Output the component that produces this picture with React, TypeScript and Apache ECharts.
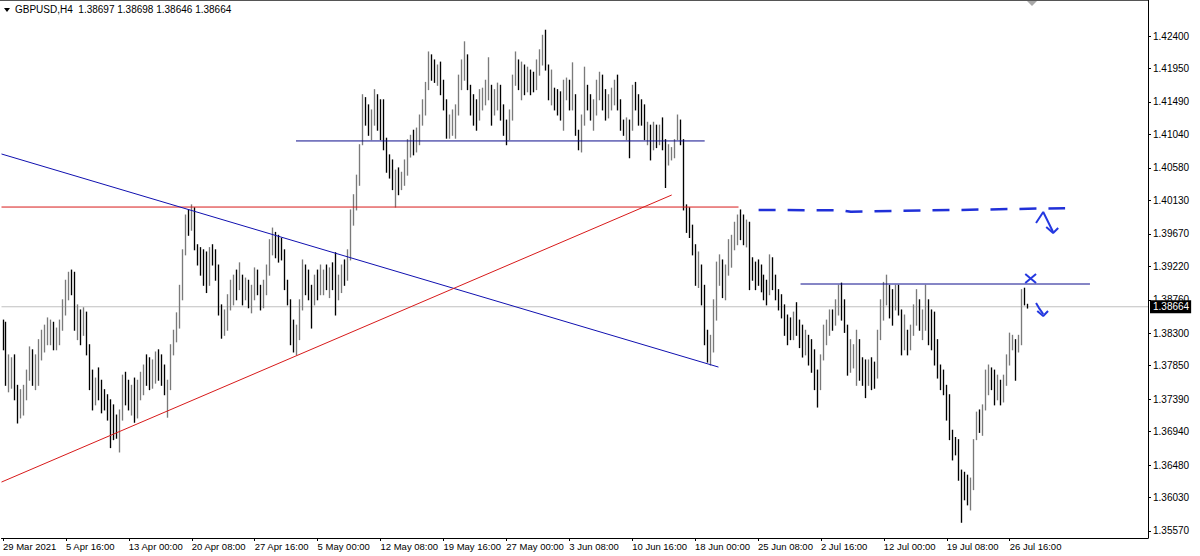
import React, { useEffect, useRef } from 'react';
import * as echarts from 'echarts';

const symbolTitle = 'GBPUSD,H4  1.38697 1.38698 1.38646 1.38664';

const xTickLabels = [
  '29 Mar 2021', '5 Apr 16:00', '13 Apr 00:00', '20 Apr 08:00', '27 Apr 16:00', '5 May 00:00',
  '12 May 08:00', '19 May 16:00', '27 May 00:00', '3 Jun 08:00', '10 Jun 16:00', '18 Jun 00:00',
  '25 Jun 08:00', '2 Jul 16:00', '12 Jul 00:00', '19 Jul 08:00', '26 Jul 16:00',
];
const xTickStep = 21;

const yTickLabels = [
  '1.42400', '1.41950', '1.41490', '1.41040', '1.40580', '1.40130', '1.39670', '1.39220',
  '1.38760', '1.38300', '1.37850', '1.37390', '1.36940', '1.36480', '1.36030', '1.35570',
];

const firstOpen = 1.383;

const highs = [
  1.3848, 1.3845, 1.3800, 1.3796, 1.3800, 1.3758, 1.3752, 1.3758, 1.3779, 1.3811,
  1.3807, 1.3800, 1.3821, 1.3834, 1.3841, 1.3851, 1.3848, 1.3845, 1.3837, 1.3848,
  1.3876, 1.3903, 1.3914, 1.3917, 1.3914, 1.3869, 1.3862, 1.3865, 1.3859, 1.3814,
  1.3779, 1.3768, 1.3782, 1.3765, 1.3752, 1.3745, 1.3738, 1.3731, 1.3717, 1.3724,
  1.3772, 1.3776, 1.3765, 1.3758, 1.3768, 1.3765, 1.3776, 1.3786, 1.3800, 1.3796,
  1.3793, 1.3804, 1.3807, 1.3800, 1.3786, 1.3765, 1.3814, 1.3834, 1.3858, 1.3896,
  1.3945, 1.3993, 1.4000, 1.4007, 1.4003, 1.3952, 1.3948, 1.3945, 1.3942, 1.3948,
  1.3952, 1.3945, 1.3924, 1.3869, 1.3862, 1.3883, 1.3903, 1.3910, 1.3917, 1.3927,
  1.3910, 1.3906, 1.3903, 1.3896, 1.3920, 1.3917, 1.3896, 1.3903, 1.3924, 1.3959,
  1.3975, 1.3969, 1.3965, 1.3961, 1.3945, 1.3903, 1.3876, 1.3848, 1.3841, 1.3876,
  1.3931, 1.3924, 1.3917, 1.3896, 1.3910, 1.3917, 1.3924, 1.3917, 1.3924, 1.3920,
  1.3927, 1.3941, 1.3910, 1.3924, 1.3931, 1.3945, 1.4000, 1.4021, 1.4048, 1.4090,
  1.4159, 1.4155, 1.4145, 1.4138, 1.4166, 1.4159, 1.4152, 1.4152, 1.4099, 1.4076,
  1.4069, 1.4055, 1.4058, 1.4052, 1.4069, 1.4097, 1.4103, 1.4110, 1.4113, 1.4131,
  1.4152, 1.4176, 1.4218, 1.4214, 1.4207, 1.4200, 1.4204, 1.4179, 1.4152, 1.4131,
  1.4138, 1.4145, 1.4186, 1.4207, 1.4232, 1.4214, 1.4172, 1.4159, 1.4152, 1.4166,
  1.4168, 1.4179, 1.4210, 1.4172, 1.4166, 1.4175, 1.4172, 1.4145, 1.4124, 1.4138,
  1.4186, 1.4218, 1.4207, 1.4204, 1.4200, 1.4197, 1.4193, 1.4190, 1.4207, 1.4221,
  1.4241, 1.4248, 1.4200, 1.4193, 1.4168, 1.4166, 1.4163, 1.4179, 1.4182, 1.4179,
  1.4203, 1.4159, 1.4110, 1.4131, 1.4197, 1.4172, 1.4159, 1.4152, 1.4179, 1.4190,
  1.4186, 1.4166, 1.4159, 1.4168, 1.4179, 1.4186, 1.4152, 1.4124, 1.4127, 1.4124,
  1.4172, 1.4176, 1.4159, 1.4152, 1.4145, 1.4121, 1.4117, 1.4121, 1.4117, 1.4117,
  1.4127, 1.4097, 1.4090, 1.4086, 1.4097, 1.4131, 1.4124, 1.4097, 1.4007, 1.4003,
  1.3979, 1.3952, 1.3942, 1.3924, 1.3896, 1.3834, 1.3827, 1.3876, 1.3928, 1.3938,
  1.3931, 1.3924, 1.3959, 1.3965, 1.3983, 1.3993, 1.4000, 1.3993, 1.3986, 1.3983,
  1.3934, 1.3928, 1.3931, 1.3924, 1.3910, 1.3903, 1.3938, 1.3934, 1.3910, 1.3890,
  1.3883, 1.3869, 1.3855, 1.3851, 1.3859, 1.3872, 1.3848, 1.3841, 1.3834, 1.3827,
  1.3821, 1.3807, 1.3779, 1.3800, 1.3841, 1.3848, 1.3862, 1.3862, 1.3876, 1.3896,
  1.3899, 1.3876, 1.3841, 1.3821, 1.3814, 1.3834, 1.3821, 1.3796, 1.3793, 1.3793,
  1.3796, 1.3790, 1.3834, 1.3876, 1.3900, 1.3910, 1.3896, 1.3890, 1.3896, 1.3896,
  1.3862, 1.3855, 1.3834, 1.3841, 1.3869, 1.3890, 1.3876, 1.3862, 1.3896, 1.3876,
  1.3862, 1.3859, 1.3821, 1.3786, 1.3779, 1.3758, 1.3745, 1.3696, 1.3686, 1.3683,
  1.3641, 1.3638, 1.3634, 1.3630, 1.3683, 1.3721, 1.3724, 1.3731, 1.3779, 1.3786,
  1.3782, 1.3779, 1.3772, 1.3765, 1.3772, 1.3800, 1.3830, 1.3827, 1.3821, 1.3827,
  1.3890, 1.3892, 1.38698,
];

const lows = [
  1.3807, 1.3758, 1.3749, 1.3754, 1.3738, 1.3706, 1.3713, 1.3717, 1.3738, 1.3765,
  1.3758, 1.3752, 1.3758, 1.3793, 1.3804, 1.3814, 1.3814, 1.3807, 1.3807, 1.3814,
  1.3834, 1.3855, 1.3876, 1.3883, 1.3834, 1.3821, 1.3814, 1.3827, 1.3800, 1.3752,
  1.3724, 1.3731, 1.3738, 1.3720, 1.3724, 1.3710, 1.3672, 1.3683, 1.3685, 1.3666,
  1.3710, 1.3731, 1.3724, 1.3717, 1.3707, 1.3713, 1.3738, 1.3745, 1.3758, 1.3752,
  1.3754, 1.3761, 1.3765, 1.3758, 1.3745, 1.3714, 1.3752, 1.3800, 1.3818, 1.3837,
  1.3876, 1.3938, 1.3965, 1.3972, 1.3945, 1.3924, 1.3910, 1.3896, 1.3886, 1.3896,
  1.3924, 1.3903, 1.3855, 1.3823, 1.3827, 1.3834, 1.3862, 1.3869, 1.3876, 1.3890,
  1.3869, 1.3876, 1.3865, 1.3858, 1.3876, 1.3883, 1.3862, 1.3865, 1.3883, 1.3910,
  1.3938, 1.3934, 1.3928, 1.3931, 1.3890, 1.3869, 1.3814, 1.3804, 1.3800, 1.3821,
  1.3862, 1.3883, 1.3876, 1.3837, 1.3869, 1.3876, 1.3883, 1.3883, 1.3890, 1.3879,
  1.3890, 1.3855, 1.3876, 1.3886, 1.3896, 1.3903, 1.3931, 1.3979, 1.4000, 1.4034,
  1.4090, 1.4117, 1.4103, 1.4097, 1.4117, 1.4110, 1.4097, 1.4083, 1.4052, 1.4044,
  1.4028, 1.4004, 1.4021, 1.4028, 1.4034, 1.4048, 1.4073, 1.4076, 1.4080, 1.4090,
  1.4117, 1.4131, 1.4166, 1.4179, 1.4176, 1.4172, 1.4159, 1.4138, 1.4099, 1.4099,
  1.4103, 1.4099, 1.4131, 1.4166, 1.4179, 1.4166, 1.4131, 1.4117, 1.4110, 1.4124,
  1.4138, 1.4145, 1.4152, 1.4117, 1.4131, 1.4138, 1.4124, 1.4103, 1.4090, 1.4097,
  1.4124, 1.4172, 1.4166, 1.4152, 1.4159, 1.4163, 1.4159, 1.4163, 1.4166, 1.4186,
  1.4200, 1.4193, 1.4152, 1.4145, 1.4138, 1.4131, 1.4124, 1.4110, 1.4152, 1.4138,
  1.4138, 1.4103, 1.4083, 1.4080, 1.4117, 1.4138, 1.4124, 1.4110, 1.4131, 1.4152,
  1.4138, 1.4124, 1.4127, 1.4138, 1.4145, 1.4138, 1.4110, 1.4103, 1.4097, 1.4072,
  1.4110, 1.4138, 1.4117, 1.4117, 1.4097, 1.4090, 1.4069, 1.4083, 1.4086, 1.4090,
  1.4083, 1.4031, 1.4062, 1.4069, 1.4072, 1.4097, 1.4090, 1.4000, 1.3969, 1.3962,
  1.3938, 1.3896, 1.3893, 1.3869, 1.3814, 1.3790, 1.3786, 1.3804, 1.3848, 1.3896,
  1.3879, 1.3876, 1.3910, 1.3921, 1.3945, 1.3952, 1.3959, 1.3952, 1.3949, 1.3890,
  1.3903, 1.3890, 1.3896, 1.3887, 1.3876, 1.3869, 1.3883, 1.3890, 1.3876, 1.3862,
  1.3851, 1.3827, 1.3814, 1.3821, 1.3821, 1.3827, 1.3810, 1.3797, 1.3800, 1.3786,
  1.3776, 1.3752, 1.3728, 1.3752, 1.3793, 1.3814, 1.3827, 1.3834, 1.3841, 1.3855,
  1.3848, 1.3831, 1.3772, 1.3776, 1.3782, 1.3758, 1.3765, 1.3758, 1.3741, 1.3758,
  1.3752, 1.3754, 1.3768, 1.3821, 1.3848, 1.3869, 1.3851, 1.3841, 1.3862, 1.3855,
  1.3800, 1.3807, 1.3800, 1.3807, 1.3827, 1.3841, 1.3834, 1.3821, 1.3834, 1.3814,
  1.3807, 1.3786, 1.3768, 1.3752, 1.3745, 1.3710, 1.3683, 1.3655, 1.3662, 1.3627,
  1.3569, 1.3600, 1.3593, 1.3586, 1.3614, 1.3683, 1.3693, 1.3689, 1.3724, 1.3745,
  1.3752, 1.3731, 1.3738, 1.3731, 1.3735, 1.3758, 1.3786, 1.3807, 1.3765, 1.3804,
  1.3814, 1.3869, 1.38646,
];

const closes = [
  1.3814, 1.3765, 1.3779, 1.3786, 1.3745, 1.3724, 1.3738, 1.3745, 1.3776, 1.3793,
  1.3772, 1.3786, 1.3793, 1.3821, 1.3827, 1.3834, 1.3841, 1.3814, 1.3827, 1.3841,
  1.3869, 1.3890, 1.3903, 1.3896, 1.3841, 1.3855, 1.3827, 1.3848, 1.3814, 1.3765,
  1.3745, 1.3758, 1.3752, 1.3738, 1.3735, 1.3724, 1.3710, 1.3703, 1.3696, 1.3717,
  1.3765, 1.3745, 1.3738, 1.3749, 1.3724, 1.3745, 1.3758, 1.3779, 1.3776, 1.3768,
  1.3782, 1.3786, 1.3779, 1.3772, 1.3752, 1.3758, 1.3807, 1.3827, 1.3848, 1.3883,
  1.3938, 1.3983, 1.3975, 1.3993, 1.3952, 1.3938, 1.3931, 1.3924, 1.3917, 1.3938,
  1.3934, 1.3910, 1.3862, 1.3841, 1.3851, 1.3876, 1.3890, 1.3903, 1.3896, 1.3910,
  1.3883, 1.3896, 1.3876, 1.3890, 1.3910, 1.3896, 1.3876, 1.3896, 1.3917, 1.3952,
  1.3959, 1.3952, 1.3945, 1.3938, 1.3896, 1.3876, 1.3821, 1.3814, 1.3827, 1.3869,
  1.3917, 1.3903, 1.3890, 1.3876, 1.3896, 1.3890, 1.3903, 1.3903, 1.3896, 1.3910,
  1.3896, 1.3876, 1.3890, 1.3917, 1.3910, 1.3938, 1.3993, 1.4014, 1.4041, 1.4083,
  1.4152, 1.4131, 1.4117, 1.4124, 1.4152, 1.4131, 1.4103, 1.4097, 1.4062, 1.4055,
  1.4034, 1.4041, 1.4034, 1.4044, 1.4055, 1.4090, 1.4097, 1.4083, 1.4103, 1.4124,
  1.4145, 1.4159, 1.4207, 1.4193, 1.4186, 1.4193, 1.4166, 1.4145, 1.4110, 1.4117,
  1.4124, 1.4138, 1.4179, 1.4193, 1.4214, 1.4172, 1.4152, 1.4138, 1.4131, 1.4152,
  1.4159, 1.4166, 1.4166, 1.4138, 1.4152, 1.4159, 1.4138, 1.4110, 1.4103, 1.4131,
  1.4179, 1.4200, 1.4186, 1.4193, 1.4172, 1.4186, 1.4179, 1.4172, 1.4200, 1.4214,
  1.4228, 1.4200, 1.4159, 1.4166, 1.4152, 1.4145, 1.4138, 1.4168, 1.4172, 1.4145,
  1.4152, 1.4110, 1.4097, 1.4124, 1.4179, 1.4152, 1.4138, 1.4145, 1.4172, 1.4179,
  1.4152, 1.4138, 1.4152, 1.4159, 1.4166, 1.4145, 1.4117, 1.4110, 1.4117, 1.4110,
  1.4159, 1.4152, 1.4131, 1.4124, 1.4103, 1.4110, 1.4103, 1.4110, 1.4097, 1.4110,
  1.4097, 1.4076, 1.4076, 1.4083, 1.4090, 1.4117, 1.4097, 1.4007, 1.3993, 1.3979,
  1.3945, 1.3910, 1.3917, 1.3876, 1.3827, 1.3807, 1.3814, 1.3862, 1.3910, 1.3917,
  1.3903, 1.3917, 1.3945, 1.3952, 1.3972, 1.3979, 1.3965, 1.3959, 1.3972, 1.3924,
  1.3917, 1.3910, 1.3903, 1.3896, 1.3890, 1.3883, 1.3931, 1.3903, 1.3883, 1.3876,
  1.3862, 1.3841, 1.3834, 1.3827, 1.3848, 1.3841, 1.3821, 1.3814, 1.3821, 1.3800,
  1.3786, 1.3765, 1.3758, 1.3793, 1.3827, 1.3834, 1.3855, 1.3848, 1.3862, 1.3883,
  1.3876, 1.3841, 1.3800, 1.3800, 1.3807, 1.3814, 1.3786, 1.3779, 1.3772, 1.3779,
  1.3772, 1.3765, 1.3827, 1.3869, 1.3890, 1.3896, 1.3876, 1.3869, 1.3883, 1.3862,
  1.3821, 1.3821, 1.3814, 1.3834, 1.3862, 1.3869, 1.3848, 1.3848, 1.3855, 1.3834,
  1.3821, 1.3800, 1.3779, 1.3765, 1.3758, 1.3724, 1.3696, 1.3676, 1.3669, 1.3641,
  1.3627, 1.3620, 1.3614, 1.3627, 1.3676, 1.3710, 1.3703, 1.3724, 1.3765, 1.3772,
  1.3765, 1.3752, 1.3758, 1.3745, 1.3765, 1.3793, 1.3814, 1.3814, 1.3807, 1.3821,
  1.3883, 1.38697, 1.38664,
];

const lastPrice = 1.38664;

// Drawn objects, in (bar index, price) coordinates
const trendLines = [
  { color: '#0c0c8c', width: 1, points: [[97.8, 1.40952], [234.2, 1.40952]] },
  { color: '#d81a1a', width: 1, points: [[-0.5, 1.4004], [245.5, 1.4004]] },
  { color: '#1010b0', width: 1, points: [[-0.5, 1.40772], [238.8, 1.37832]] },
  { color: '#d81a1a', width: 1, points: [[-0.5, 1.36245], [223.2, 1.40206]] },
  { color: '#0c0c8c', width: 1, points: [[266.2, 1.38978], [362.8, 1.38978]] },
];
const dashedLevel = [[252.2, 1.4000], [280, 1.39995], [283, 1.39975], [290, 1.3998], [354.5, 1.40025]];
const penStrokes = [
  [[344.8, 1.3982], [347.2, 1.39971], [350.5, 1.39695]],
  [[348.2, 1.39764], [350.5, 1.39682], [352.2, 1.39751]],
  [[341.2, 1.39116], [344.8, 1.38992]],
  [[341.2, 1.38992], [344.8, 1.39116]],
  [[344.8, 1.38716], [345.8, 1.38646], [347.2, 1.38564]],
  [[345.2, 1.38605], [347.2, 1.38536], [348.8, 1.38605]],
];

const upColor = '#7a7a7a';
const downColor = '#000000';
const font = 'Liberation Sans, Arial, sans-serif';

export default function App() {
  const ref = useRef<HTMLDivElement>(null);

  useEffect(() => {
    document.body.style.margin = '0';
    if (!ref.current) return;
    const chart = echarts.init(ref.current, undefined, { renderer: 'svg' });

    const bars = highs.map((h, i) => {
      const open = i === 0 ? firstOpen : closes[i - 1];
      return [i, open, h, lows[i], closes[i]];
    });
    const xMin = -0.5;
    const xMax = 382.17;
    const xTickValues = xTickLabels.map((_, k) => k * xTickStep);
    const yTickValues = yTickLabels.map(Number);

    const lineSeries = (data: number[][], color: string, width: number, extra: any = {}) => ({
      type: 'line',
      data,
      symbol: 'none',
      silent: true,
      lineStyle: { color, width, ...(extra.lineStyle || {}) },
      z: 5,
      clip: false,
    });

    const option: any = {
      animation: false,
      backgroundColor: '#ffffff',
      title: {
        text: symbolTitle,
        left: 15,
        top: 4,
        padding: 0,
        textStyle: { fontFamily: font, fontSize: 10, fontWeight: 'normal', color: '#000' },
      },
      grid: { left: 0, top: 0, right: 52, bottom: 18 },
      xAxis: {
        type: 'value',
        min: xMin,
        max: xMax,
        axisLine: { show: true, onZero: false, lineStyle: { color: '#000', width: 1 } },
        axisTick: { show: true, customValues: xTickValues, length: 3, lineStyle: { color: '#000' } },
        axisLabel: {
          customValues: xTickValues,
          formatter: (v: number) => xTickLabels[Math.round(v / xTickStep)] ?? '',
          align: 'left',
          margin: 3,
          fontSize: 9.5,
          fontFamily: font,
          color: '#000',
        },
        splitLine: { show: false },
      },
      yAxis: {
        type: 'value',
        position: 'right',
        min: 1.35473,
        max: 1.42897,
        axisLine: { show: true, onZero: false, lineStyle: { color: '#000', width: 1 } },
        axisTick: { show: true, customValues: yTickValues, length: 3, lineStyle: { color: '#000' } },
        axisLabel: {
          customValues: yTickValues,
          formatter: (v: number) => v.toFixed(5),
          margin: 5,
          fontSize: 10,
          fontFamily: font,
          color: '#000',
        },
        splitLine: { show: false },
      },
      series: [
        {
          type: 'line',
          data: [[xMin, lastPrice], [xMax, lastPrice]],
          symbol: 'none',
          silent: true,
          z: 1,
          lineStyle: { color: '#c0c0c0', width: 1 },
          endLabel: {
            show: true,
            formatter: () => lastPrice.toFixed(5),
            backgroundColor: '#000',
            color: '#fff',
            fontFamily: font,
            fontSize: 10,
            padding: [2, 2, 1, 3],
            distance: 2,
          },
        },
        {
          type: 'custom',
          data: bars,
          encode: { x: 0, y: [2, 3] },
          z: 3,
          silent: true,
          renderItem: (params: any, api: any) => {
            const idx = api.value(0);
            const top = api.coord([idx, api.value(2)]);
            const bottom = api.coord([idx, api.value(3)]);
            const up = api.value(4) >= api.value(1);
            const x = Math.floor(top[0]) + 0.5;
            return {
              type: 'line',
              shape: { x1: x, y1: top[1] - 0.5, x2: x, y2: bottom[1] + 0.5 },
              style: { stroke: up ? upColor : downColor, lineWidth: 1.35 },
            };
          },
        },
        ...trendLines.map((t) => lineSeries(t.points, t.color, t.width)),
        lineSeries(dashedLevel, '#2030d8', 2.5, { lineStyle: { type: [17, 12] } }),
        ...penStrokes.map((s) => lineSeries(s, '#2438e0', 2)),
      ],
      graphic: [
        { type: 'line', shape: { x1: 0, y1: 0.5, x2: 1148, y2: 0.5 }, style: { stroke: '#555', lineWidth: 1 } },
        { type: 'polygon', shape: { points: [[4, 8], [10, 8], [7, 12]] }, style: { fill: '#000' } },
        { type: 'polygon', shape: { points: [[1027, 1], [1037, 1], [1032, 6]] }, style: { fill: '#a8a8a8' } },
      ],
    };

    chart.setOption(option);
    return () => chart.dispose();
  }, []);

  return <div ref={ref} style={{ width: 1200, height: 556 }} />;
}
